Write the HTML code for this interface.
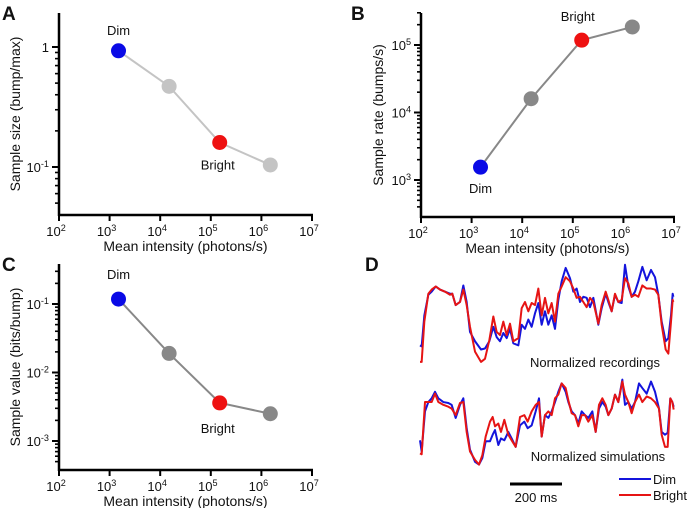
<!DOCTYPE html>
<html><head><meta charset="utf-8"><style>
body{margin:0;background:#fff;}
svg{display:block;font-family:"Liberation Sans",Arial,sans-serif;}
</style></head><body>
<svg id="fig" width="691" height="508" viewBox="0 0 691 508"></svg>
<script>
// ---- scatter data ----
const intensities = [1500, 15000, 150000, 1500000];
const sampleSize = [0.93, 0.47, 0.16, 0.104];
const sampleRate = [1550, 16000, 118000, 185000];
const sampleValue = [0.118, 0.019, 0.0036, 0.0025];
const xTickExps = [2, 3, 4, 5, 6, 7];

// ---- trace data (time in samples, ~1.28 ms each; values normalized) ----
const timeRec = [0,5,13,25,35,47,60,75,90,97,107,120,130,140,150,165,183,195,208,220,230,240,250,260,270,280,295,305,315,325,335,345,355,365,375,385,395,405,415,425,437,450,460,470,480,490,500,510,520,535,545,557,565,575,585,595,605,615,625,635,645,655,667,680,693,705,715,725,737,745,753,758,760];
const recDim = [.19,.18,.48,.68,.71,.76,.73,.71,.69,.69,.58,.61,.77,.61,.32,.23,.15,.16,.23,.37,.27,.23,.31,.26,.35,.21,.19,.39,.35,.44,.37,.50,.60,.39,.52,.39,.48,.35,.63,.81,.94,.84,.71,.74,.61,.66,.65,.56,.65,.39,.55,.69,.61,.52,.68,.61,.60,.97,.76,.66,.71,.81,.95,.82,.92,.85,.68,.42,.23,.26,.48,.69,.66];
const recBright = [.03,.03,.42,.69,.73,.76,.73,.71,.68,.69,.58,.61,.73,.58,.37,.13,.03,.06,.24,.47,.32,.29,.42,.29,.40,.23,.26,.55,.61,.52,.60,.58,.74,.48,.65,.50,.60,.42,.69,.76,.85,.81,.74,.65,.66,.61,.56,.65,.61,.40,.58,.71,.63,.52,.69,.61,.63,.84,.79,.66,.68,.66,.77,.74,.74,.73,.68,.39,.15,.11,.42,.63,.61];
const timeSim = [0,5,15,25,35,45,55,70,85,95,107,120,130,140,150,165,177,187,197,210,218,225,235,243,253,265,275,287,300,313,323,335,347,357,365,375,385,395,405,415,425,437,445,455,465,475,485,495,505,517,527,537,547,557,565,575,585,595,607,615,625,635,645,657,667,680,693,705,717,725,735,743,751,757,761];
const simDim = [.30,.18,.61,.71,.75,.82,.75,.71,.70,.68,.54,.68,.75,.43,.20,.07,.04,.11,.29,.29,.36,.41,.25,.32,.30,.39,.32,.23,.46,.50,.43,.46,.61,.75,.34,.57,.54,.61,.71,.82,.91,.82,.71,.61,.57,.48,.61,.57,.54,.61,.39,.64,.71,.66,.57,.64,.79,.71,.95,.68,.71,.64,.71,.91,.86,.80,.93,.82,.64,.39,.36,.38,.75,.71,.66];
const simBright = [.16,.15,.71,.71,.71,.80,.71,.68,.66,.64,.57,.70,.71,.39,.18,.09,.04,.14,.34,.50,.55,.45,.48,.39,.52,.36,.30,.23,.55,.57,.50,.61,.68,.71,.34,.57,.61,.57,.75,.79,.91,.86,.73,.59,.57,.45,.57,.57,.50,.57,.39,.68,.75,.68,.57,.64,.79,.71,.93,.79,.71,.59,.71,.79,.71,.77,.75,.71,.64,.36,.23,.23,.75,.71,.63];

const svg = document.getElementById('fig');
const NS = 'http://www.w3.org/2000/svg';
function mk(tag, attrs, parent) {
  const e = document.createElementNS(NS, tag);
  for (const k in attrs) e.setAttribute(k, attrs[k]);
  (parent || svg).appendChild(e);
  return e;
}
function txt(x, y, s, size, anchor, parent, weight) {
  const t = mk('text', {x: x, y: y, 'font-size': size, 'text-anchor': anchor || 'middle', fill: '#111'}, parent);
  if (weight) t.setAttribute('font-weight', weight);
  t.textContent = s;
  return t;
}
function supLabel(x, y, base, exp, size, anchor, parent) {
  const t = mk('text', {x: x, y: y, 'font-size': size, 'text-anchor': anchor, fill: '#111'}, parent);
  const a = document.createElementNS(NS, 'tspan'); a.textContent = base; t.appendChild(a);
  const b = document.createElementNS(NS, 'tspan'); b.setAttribute('dy', -5); b.setAttribute('font-size', size * 0.7); b.textContent = exp; t.appendChild(b);
  return t;
}

function panel(cfg) {
  const g = mk('g', {});
  
  
  const xs = v => cfg.x0 + (Math.log10(v) - 2) * cfg.xDec;
  const ys = v => cfg.yRef - (Math.log10(v) - cfg.yRefExp) * cfg.yDec;
  const xEnd = cfg.x0 + 5 * cfg.xDec;
  // axes
  const yAx = mk('line', {x1: cfg.x0, y1: cfg.yTop, x2: cfg.x0, y2: cfg.yBot + 1, stroke: '#000', 'stroke-width': 2.5}, g);
  
  
  const xAx = mk('line', {x1: cfg.x0 - 1, y1: cfg.yBot, x2: xEnd + 1, y2: cfg.yBot, stroke: '#000', 'stroke-width': 2.5}, g);
  
  
  xTickExps.forEach(e => {
    const x = xs(Math.pow(10, e));
    mk('line', {x1: x, y1: cfg.yBot, x2: x, y2: cfg.yBot + 6, stroke: '#000', 'stroke-width': 2}, g);
    const l = supLabel(x - 3, cfg.yBot + 21, '10', e, 13, 'middle', g);
    
    
  });
  // y ticks
  for (let e = -4; e <= 6; e++) {
    for (let m = 1; m <= 9; m++) {
      const v = m * Math.pow(10, e);
      const y = ys(v);
      if (y < cfg.yTop - 0.5 || y > cfg.yBot - 2) continue;
      mk('line', {x1: cfg.x0 - (m === 1 ? 7 : 4), y1: y, x2: cfg.x0, y2: y, stroke: '#000', 'stroke-width': m === 1 ? 2 : 1.6}, g);
      if (m === 1 && cfg.yLabels[e] !== undefined) {
        const lab = cfg.yLabels[e];
        let l;
        if (lab[1] === '') l = txt(cfg.x0 - 10, y + 5, lab[0], 13, 'end', g);
        else l = supLabel(cfg.x0 - 10, y + 5, lab[0], lab[1], 13, 'end', g);
        
        
      }
    }
  }
  // titles
  const xt = txt((cfg.x0 + xEnd) / 2, cfg.yBot + 36, 'Mean intensity (photons/s)', 14, 'middle', g);
  
  
  const yt = txt(0, 0, cfg.yTitle, 14, 'middle', g);
  yt.setAttribute('transform', 'translate(' + cfg.yTitleX + ',' + ((cfg.yTop + cfg.yBot) / 2) + ') rotate(-90)');
  
  
  const pl = txt(cfg.letterX, cfg.letterY, cfg.letter, 19, 'start', g, 'bold');
  
  
  // series
  const pts = intensities.map((v, i) => xs(v) + ',' + ys(cfg.vals[i])).join(' ');
  const line = mk('polyline', {points: pts, fill: 'none', stroke: cfg.lineColor, 'stroke-width': 2}, g);
  
  
  const colors = ['#0a0ae6', cfg.dotColor, '#ee1111', cfg.dotColor];
  intensities.forEach((v, i) => {
    const c = mk('circle', {cx: xs(v), cy: ys(cfg.vals[i]), r: 7.5, fill: colors[i]}, g);
    
    
  });
  const dl = txt(xs(intensities[0]) + cfg.dimDx, ys(cfg.vals[0]) + cfg.dimDy, 'Dim', 13, 'middle', g);
  
  
  const bl = txt(xs(intensities[2]) + cfg.brDx, ys(cfg.vals[2]) + cfg.brDy, 'Bright', 13, 'middle', g);
  
  
}

panel({name: 'panel-a-sample-size', x0: 59, xDec: 50.6, yRef: 47, yRefExp: 0, yDec: 120, yTop: 13, yBot: 215,
  yLabels: {0: ['1', ''], '-1': ['10', '-1']}, yTitle: 'Sample size (bump/max)', yTitleX: 20,
  letter: 'A', letterX: 2, letterY: 20, vals: sampleSize, lineColor: '#c4c4c4', dotColor: '#c4c4c4',
  dimDx: 0, dimDy: -16, brDx: -2, brDy: 27});
panel({name: 'panel-b-sample-rate', x0: 421, xDec: 50.6, yRef: 180, yRefExp: 3, yDec: 67.5, yTop: 13, yBot: 217,
  yLabels: {3: ['10', '3'], 4: ['10', '4'], 5: ['10', '5']}, yTitle: 'Sample rate (bumps/s)', yTitleX: 383,
  letter: 'B', letterX: 351, letterY: 20, vals: sampleRate, lineColor: '#888', dotColor: '#888',
  dimDx: 0, dimDy: 26, brDx: -4, brDy: -19});
panel({name: 'panel-c-sample-value', x0: 59, xDec: 50.6, yRef: 304, yRefExp: -1, yDec: 68.5, yTop: 264, yBot: 470,
  yLabels: {'-1': ['10', '-1'], '-2': ['10', '-2'], '-3': ['10', '-3']}, yTitle: 'Sample value (bits/bump)', yTitleX: 20,
  letter: 'C', letterX: 2, letterY: 271, vals: sampleValue, lineColor: '#888', dotColor: '#888',
  dimDx: 0, dimDy: -20, brDx: -2, brDy: 30});

// ---- panel D ----
const gD = mk('g', {});


const tx = t => 420 + t / 3;
const yRec = v => 365 - v * 103.3;
const ySim = v => 468.3 - v * 93.3;
function trace(times, vals, yf, color, name) {
  const p = mk('polyline', {points: times.map((t, i) => tx(t) + ',' + yf(vals[i])).join(' '), fill: 'none', stroke: color, 'stroke-width': 2, 'stroke-linejoin': 'round'}, gD);
  
  
}
trace(timeRec, recDim, yRec, '#1414dc', 'recording-dim-trace');
trace(timeRec, recBright, yRec, '#e61414', 'recording-bright-trace');
trace(timeSim, simDim, ySim, '#1414dc', 'simulation-dim-trace');
trace(timeSim, simBright, ySim, '#e61414', 'simulation-bright-trace');
const dL = txt(365, 271, 'D', 19, 'start', gD, 'bold');


const r1 = txt(595, 367, 'Normalized recordings', 13, 'middle', gD);


const r2 = txt(598, 461, 'Normalized simulations', 13, 'middle', gD);


const sb = mk('line', {x1: 510, y1: 484, x2: 562, y2: 484, stroke: '#000', 'stroke-width': 3}, gD);


const sbl = txt(536, 502, '200 ms', 13, 'middle', gD);


const lg1 = mk('line', {x1: 619, y1: 479, x2: 651, y2: 479, stroke: '#1414dc', 'stroke-width': 2}, gD);


const lt1 = txt(653, 484, 'Dim', 13, 'start', gD);


const lg2 = mk('line', {x1: 619, y1: 495, x2: 651, y2: 495, stroke: '#e61414', 'stroke-width': 2}, gD);


const lt2 = txt(653, 500, 'Bright', 13, 'start', gD);


</script>
</body></html>
